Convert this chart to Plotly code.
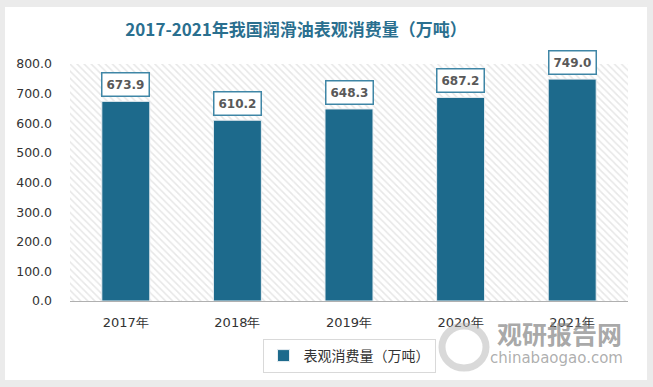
import plotly.graph_objects as go

categories = ["2017年", "2018年", "2019年", "2020年", "2021年"]
values = [673.9, 610.2, 648.3, 687.2, 749.0]
series_name = "表观消费量（万吨）"
title_text = "2017-2021年我国润滑油表观消费量（万吨）"
y_ticks = [0, 100, 200, 300, 400, 500, 600, 700, 800]

W, H = 653, 387
L, R, T, B = 70, 25, 64, 86
pw, ph = W - L - R, H - T - B

def px(x):
    return (x - L) / pw

def py(y):
    return (H - B - y) / ph

fig = go.Figure()

# hatched plot background
fig.add_trace(go.Bar(
    x=categories, y=[max(y_ticks)] * len(categories), width=1.0,
    marker=dict(color="white", line=dict(width=0),
                pattern=dict(shape="\\", fgcolor="#cfcfcf", bgcolor="white", size=5, solidity=0.3)),
    showlegend=False, hoverinfo="skip",
))

fig.add_trace(go.Bar(
    x=categories, y=values, width=0.43, name=series_name,
    marker=dict(color="#1d6a8c", line=dict(width=1, color="#e8eef2")),
))

for c, v in zip(categories, values):
    fig.add_annotation(
        x=c, y=v, xref="x", yref="y", text=f"{v:.1f}", showarrow=False,
        yanchor="bottom", yshift=4, width=44, height=20, borderpad=1,
        bgcolor="white", bordercolor="#3f86a6", borderwidth=1.5,
        font=dict(family="DejaVu Sans", size=12, color="#595959", weight="bold"),
    )

# card
fig.add_shape(type="rect", xref="paper", yref="paper",
              x0=px(5), x1=px(647), y0=py(380), y1=py(7),
              fillcolor="white", line=dict(width=0), layer="below")

# watermark
fig.add_annotation(xref="paper", yref="paper", x=px(559), y=py(333), xanchor="center", yanchor="middle",
                   text="<b>观研报告网</b>", showarrow=False,
                   font=dict(family="Noto Sans CJK SC", size=25, color="rgba(130,130,130,0.7)"))
fig.add_annotation(xref="paper", yref="paper", x=px(556), y=py(358), xanchor="center", yanchor="middle",
                   text="chinabaogao.com", showarrow=False,
                   font=dict(family="DejaVu Sans", size=15, color="rgba(130,130,130,0.65)"))
fig.add_shape(type="circle", xref="paper", yref="paper",
              x0=px(442), x1=px(486), y0=py(368), y1=py(326),
              line=dict(color="rgba(170,170,170,0.45)", width=7))

fig.update_layout(
    width=W, height=H,
    margin=dict(l=L, r=R, t=T, b=B),
    paper_bgcolor="#ebebeb", plot_bgcolor="white",
    barmode="overlay",
    title=dict(text=title_text, x=px(323), xanchor="center", y=1 - 30 / H, yanchor="middle",
               font=dict(family="Noto Sans CJK SC", size=17, color="#2a6f8f", weight="bold")),
    xaxis=dict(range=[-0.5, 4.5], showgrid=False, showline=False, ticks="",
               ticklabelstandoff=12,
               tickfont=dict(family="DejaVu Sans", size=13, color="#333333")),
    yaxis=dict(range=[0, 800], tickvals=y_ticks, tickformat=".1f", showgrid=False,
               zeroline=True, zerolinecolor="#b0b0b0", zerolinewidth=2, showline=False,
               ticks="", ticklabelstandoff=17,
               tickfont=dict(family="DejaVu Sans", size=12.5, color="#333333")),
    legend=dict(orientation="h", x=px(349), xanchor="center", y=py(339), yanchor="top",
                bordercolor="#d9d9d9", borderwidth=1, bgcolor="white",
                font=dict(family="Noto Sans CJK SC", size=14, color="#333333")),
    showlegend=True,
)

fig.write_html("out.html", config={"displayModeBar": False},
               post_script="document.body.style.margin='0px';")
